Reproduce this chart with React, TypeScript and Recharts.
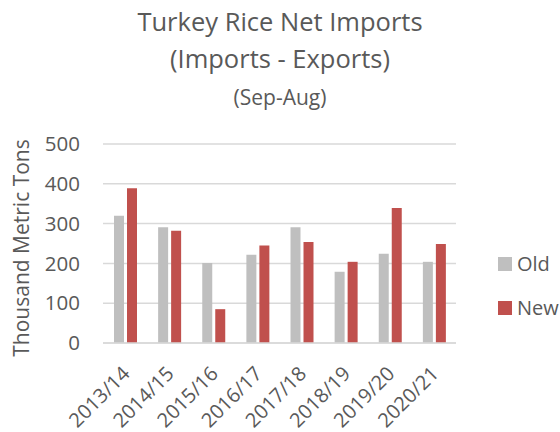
import { BarChart, Bar, XAxis, YAxis, CartesianGrid } from 'recharts';

const years = ['2013/14', '2014/15', '2015/16', '2016/17', '2017/18', '2018/19', '2019/20', '2020/21'];
const oldVals = [320, 291, 201, 222, 291, 179, 224, 204];
const newVals = [389, 282, 85, 245, 254, 204, 339, 249];
const yTicks = [0, 100, 200, 300, 400, 500];

const data = years.map((y, i) => ({ year: y, old: oldVals[i], new: newVals[i] }));

const FONT = '"Open Sans", sans-serif';
const GREY = '#595959';

const XTick = (props: any) => {
    const { x, y, payload } = props;
    return (
        <g transform={`translate(${x + 1},${y + 19})`}>
            <text x={0} y={0} textAnchor="end" transform="rotate(-45)" fill={GREY} fontSize={20} fontFamily={FONT} dy="0.35em">
                {payload.value}
            </text>
        </g>
    );
};

export default function App() {
    return (
        <div style={{ position: 'absolute', left: 0, top: 0, width: 560, height: 432, background: '#fff', fontFamily: FONT, color: GREY }}>
            <div style={{ position: 'absolute', left: 0, top: 3, width: 560, textAlign: 'center', fontSize: 25.5, lineHeight: '37px' }}>
                Turkey Rice Net Imports
                <br />
                (Imports - Exports)
            </div>
            <div style={{ position: 'absolute', left: 0, top: 79, width: 560, textAlign: 'center', fontSize: 21, lineHeight: '37px' }}>
                (Sep-Aug)
            </div>
            <div
                style={{
                    position: 'absolute', left: 21, top: 248, fontSize: 21, whiteSpace: 'nowrap',
                    transform: 'translate(-50%, -50%) rotate(-90deg)',
                }}
            >
                Thousand Metric Tons
            </div>
            <BarChart
                width={560}
                height={432}
                data={data}
                margin={{ top: 144, right: 104, bottom: 0, left: 0 }}
                barSize={10}
                barGap={3}
                style={{ position: 'absolute', left: 0, top: 0 }}
            >
                <CartesianGrid vertical={false} stroke="#d9d9d9" strokeWidth={1.5} />
                <XAxis
                    dataKey="year"
                    axisLine={{ stroke: '#d9d9d9', strokeWidth: 1.5 }}
                    tickLine={false}
                    interval={0}
                    tick={<XTick />}
                    height={89}
                />
                <YAxis
                    domain={[0, 500]}
                    ticks={yTicks}
                    interval={0}
                    width={103}
                    axisLine={false}
                    tickLine={false}
                    tickMargin={17}
                    tick={{ fill: GREY, fontSize: 20.5, fontFamily: FONT }}
                />
                <Bar dataKey="old" fill="#bfbfbf" isAnimationActive={false} />
                <Bar dataKey="new" fill="#c0504d" isAnimationActive={false} />
            </BarChart>
            <div style={{ position: 'absolute', left: 498, top: 251, fontSize: 20, lineHeight: '25px' }}>
                <div style={{ display: 'flex', alignItems: 'center' }}>
                    <span style={{ width: 14, height: 14, background: '#bfbfbf', marginRight: 5 }} />
                    Old
                </div>
                <div style={{ display: 'flex', alignItems: 'center', marginTop: 19 }}>
                    <span style={{ width: 14, height: 14, background: '#c0504d', marginRight: 5 }} />
                    New
                </div>
            </div>
        </div>
    );
}
